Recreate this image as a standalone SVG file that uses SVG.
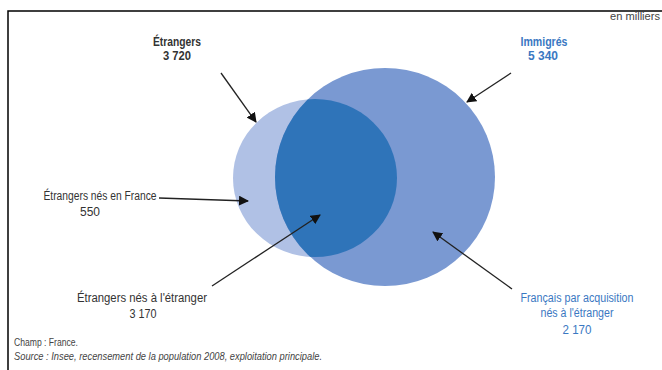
<svg xmlns="http://www.w3.org/2000/svg" width="662" height="370" viewBox="0 0 662 370">
<defs>
<style>
.t{font-family:"Liberation Sans Narrow","Arial Narrow","Liberation Sans",sans-serif;font-size:12.5px;text-anchor:middle;fill:#333}
.b{font-weight:bold}
.blue{fill:#3a78c2}
.foot{font-family:"Liberation Sans Narrow","Arial Narrow","Liberation Sans",sans-serif;font-size:10px;fill:#444}
.conn line{stroke:#222;stroke-width:1.3;marker-end:url(#ah)}
</style>
<marker id="ah" viewBox="0 0 10 10" refX="9" refY="5" markerWidth="10" markerHeight="10" markerUnits="userSpaceOnUse" orient="auto">
<path d="M0,0 L10,5 L0,10 z" fill="#111"/>
</marker>
<clipPath id="smallClip"><ellipse cx="315" cy="178" rx="82" ry="79"/></clipPath>
</defs>
<rect width="662" height="370" fill="#fff"/>
<path d="M8,370 V11 H662" fill="none" stroke="#000" stroke-width="1.5"/>
<text class="foot" x="660" y="20" text-anchor="end" textLength="50" lengthAdjust="spacingAndGlyphs">en milliers</text>

<g id="etrangers-circle">
<ellipse cx="315" cy="178" rx="82" ry="79" fill="#b0c1e5"/>
</g>
<g id="immigres-circle">
<ellipse cx="385" cy="177" rx="110" ry="109" fill="#7a99d2"/>
</g>
<g id="intersection">
<ellipse cx="385" cy="177" rx="110" ry="109" fill="#2f74b9" clip-path="url(#smallClip)"/>
</g>

<g id="label-etrangers">
<text class="t b" x="177" y="46" textLength="48" lengthAdjust="spacingAndGlyphs">Étrangers</text>
<text class="t b" x="177" y="60" textLength="28" lengthAdjust="spacingAndGlyphs">3 720</text>
</g>
<g id="label-immigres">
<text class="t b blue" x="544" y="46" textLength="47" lengthAdjust="spacingAndGlyphs">Immigrés</text>
<text class="t b blue" x="543" y="60" textLength="30" lengthAdjust="spacingAndGlyphs">5 340</text>
</g>
<g id="label-nes-france">
<text class="t" x="100" y="200" textLength="113" lengthAdjust="spacingAndGlyphs">Étrangers nés en France</text>
<text class="t" x="90" y="216" textLength="20" lengthAdjust="spacingAndGlyphs">550</text>
</g>
<g id="label-nes-etranger">
<text class="t" x="142" y="302" textLength="130" lengthAdjust="spacingAndGlyphs">Étrangers nés à l'étranger</text>
<text class="t" x="143" y="318" textLength="27" lengthAdjust="spacingAndGlyphs">3 170</text>
</g>
<g id="label-francais">
<text class="t blue" x="577" y="302" textLength="113" lengthAdjust="spacingAndGlyphs">Français par acquisition</text>
<text class="t blue" x="577" y="317" textLength="73" lengthAdjust="spacingAndGlyphs">nés à l'étranger</text>
<text class="t blue" x="577" y="334" textLength="29" lengthAdjust="spacingAndGlyphs">2 170</text>
</g>

<g id="connectors" class="conn">
<line x1="221" y1="73" x2="256" y2="122"/>
<line x1="511" y1="73" x2="467" y2="102"/>
<line x1="159" y1="198" x2="248" y2="201"/>
<line x1="212" y1="286" x2="320" y2="215"/>
<line x1="512" y1="289" x2="433" y2="232"/>
</g>

<text class="foot" x="14" y="346" textLength="64" lengthAdjust="spacingAndGlyphs">Champ : France.</text>
<text class="foot" x="14" y="360" font-style="italic" textLength="308" lengthAdjust="spacingAndGlyphs">Source : Insee, recensement de la population 2008, exploitation principale.</text>
</svg>
